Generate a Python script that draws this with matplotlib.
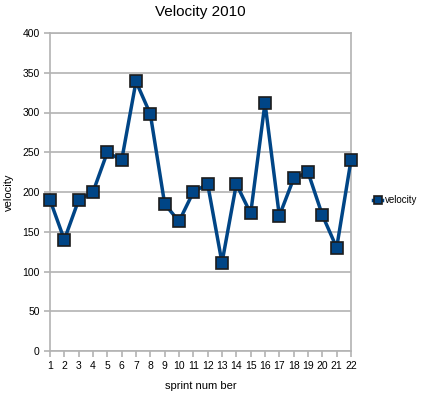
import matplotlib
matplotlib.use("Agg")
import matplotlib.pyplot as plt

sprints = list(range(1, 23))
velocity = [190, 140, 190, 200, 250, 240, 339, 298, 185, 163, 200,
            210, 111, 210, 173, 312, 170, 217, 225, 171, 130, 240]
y_ticks = [0, 50, 100, 150, 200, 250, 300, 350, 400]

plt.rcParams['font.family'] = ['Liberation Sans', 'DejaVu Sans']

fig = plt.figure(figsize=(4.25, 3.97), dpi=100)
ax = fig.add_axes([50 / 425, 46 / 397, 301 / 425, 318 / 397])

grid_col = "#b3b3b3"
ax.plot(sprints, velocity, color="#004586", linewidth=2.5, marker="s",
        markersize=8, markerfacecolor="#004586", markeredgecolor="#1c1c1c",
        markeredgewidth=1.2, label="velocity", clip_on=False, zorder=3)

ax.set_xlim(1, 22)
ax.set_ylim(0, 400)
ax.set_xticks(sprints)
ax.set_yticks(y_ticks)
ax.yaxis.grid(True, color=grid_col, linewidth=1.2)
ax.set_axisbelow(True)
for s in ax.spines.values():
    s.set_color(grid_col)
    s.set_linewidth(1.2)
ax.tick_params(axis="both", colors=grid_col, labelcolor="black", labelsize=7.5,
               length=4, width=1.2)

ax.set_title("Velocity 2010", fontsize=11, pad=12)
ax.set_xlabel("sprint num ber", fontsize=8, labelpad=7)
ax.set_ylabel("velocity", fontsize=8, labelpad=6)

fig.legend(loc="center left", bbox_to_anchor=(364 / 425, 1 - 200 / 397),
           frameon=False, fontsize=7, handlelength=1.0, handletextpad=0.3,
           markerscale=0.7)

fig.savefig("out.png", dpi=100)
